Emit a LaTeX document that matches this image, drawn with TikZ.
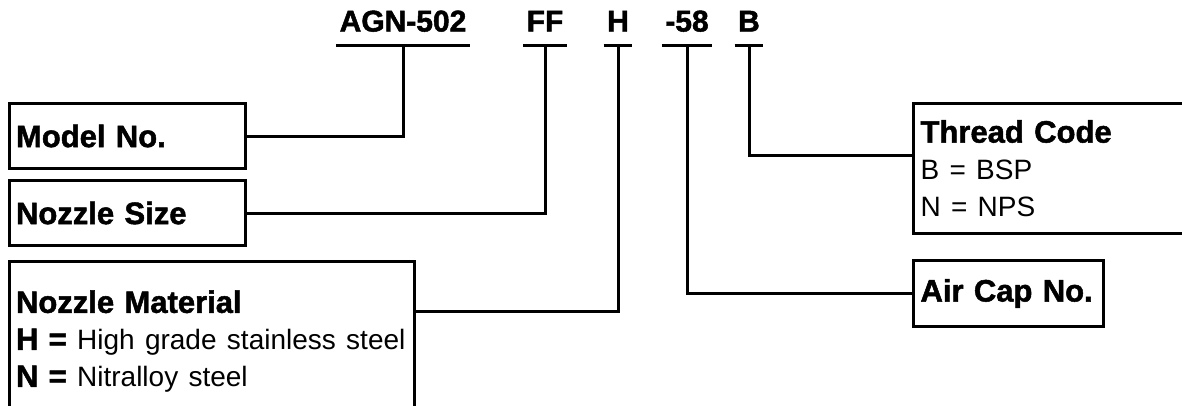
\documentclass[tikz,border=0pt]{standalone}
\usepackage{fontspec}
\setmainfont{Liberation Sans}[BoldFeatures={FakeBold=1.6}]
\newcommand{\plain}{\fontsize{28}{37}\selectfont}

\begin{document}
\begin{tikzpicture}[x=1pt, y=-1pt, line width=3pt,
		code/.style={font=\fontsize{30}{36}\selectfont\bfseries, inner xsep=2pt, inner ysep=0pt, text depth=12pt, anchor=south},
		box/.style={draw, line width=3pt, outer sep=0pt, anchor=north west, align=left, inner xsep=7pt, inner ysep=0pt, font=\fontsize{31}{37}\selectfont}]
		\clip (0,0) rectangle (1182,405);
		\fill[white] (0,0) rectangle (1182,405);

		% order code
		\node[code] (agn) at (403,45) {AGN-502};
		\node[code] (ff) at (545,45) {FF};
		\node[code] (h) at (618,45) {H};
		\node[code] (cap) at (687,45) {-58};
		\node[code] (thr) at (749,45) {B};

		\foreach \c in {agn,ff,h,cap,thr}
			\draw (\c.south west) -- (\c.south east);

		% boxes
		\node[box, text width=222pt, minimum height=65pt] (model) at (9,103.5) {\textbf{Model No.}};
		\node[box, text width=222pt, minimum height=65pt] (size) at (9,180.5) {\textbf{Nozzle Size}};
		\node[box, text width=391pt, minimum height=160pt] (material) at (9,261.5)
			{\textbf{Nozzle Material}\\ \textbf{H =} {\plain High grade stainless steel}\\ \textbf{N =} {\plain Nitralloy steel}};
		\node[box, text width=288pt, minimum height=130pt] (thread) at (913.5,103.5)
			{\textbf{Thread Code}\\ {\plain B = BSP}\\ {\plain N = NPS}};
		\node[box, text width=176pt, minimum height=66pt] (aircap) at (913.5,260.5) {\textbf{Air Cap No.}};

		\coordinate (matin) at (material.east |- 0,311);
		\coordinate (thrin) at (thread.west |- 0,155);

		% connectors
		\draw (agn.south) |- (model.east);
		\draw (ff.south) |- (size.east);
		\draw (h.south) |- (matin);
		\draw (cap.south) |- (aircap.west);
		\draw (thr.south) |- (thrin);

	\end{tikzpicture}
\end{document}
